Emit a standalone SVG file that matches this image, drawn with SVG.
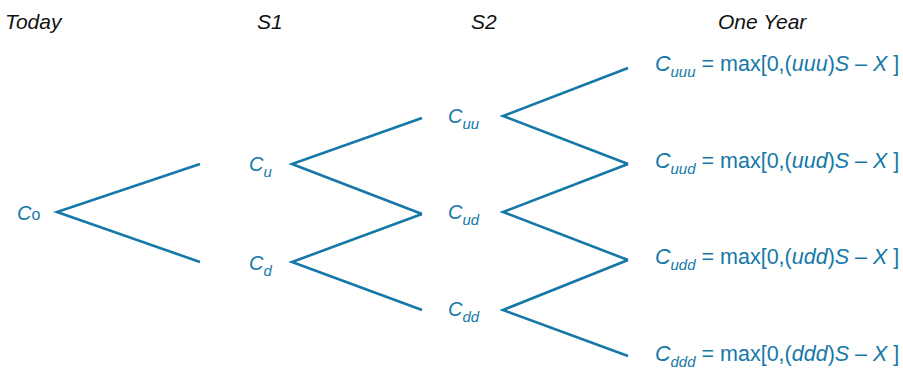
<svg xmlns="http://www.w3.org/2000/svg" width="903" height="373" viewBox="0 0 903 373">
<style>
.h{font-family:"Liberation Sans",Arial,sans-serif;font-style:italic;font-size:21px;fill:#111}
.n{font-family:"Liberation Sans",Arial,sans-serif;font-size:20px;fill:#1578a8}
.r{font-size:21.5px}
.i{font-style:italic}
.s{font-size:15px;font-style:italic}
.e{stroke:#1578a8;stroke-width:2.6;fill:none;stroke-linejoin:miter}
</style>
<rect width="903" height="373" fill="#fff"/>
<g id="headers">
<text class="h" x="5" y="29">Today</text>
<text class="h" x="257" y="29">S1</text>
<text class="h" x="471" y="29">S2</text>
<text class="h" x="718" y="29">One Year</text>
</g>
<g id="connectors">
<polyline class="e" points="200,164 57,212 200,262"/>
<polyline class="e" points="422,118 292,164 422,214"/>
<polyline class="e" points="422,214 292,262 422,310"/>
<polyline class="e" points="628,68 503,116 628,164"/>
<polyline class="e" points="628,164 503,212 628,260"/>
<polyline class="e" points="628,260 503,310 628,356"/>
</g>
<g id="C0"><text class="n" x="17" y="220"><tspan class="i">C</tspan><tspan font-size="16">o</tspan></text></g>
<g id="Cu"><text class="n" x="249" y="171"><tspan class="i">C</tspan><tspan class="s" dy="6">u</tspan></text></g>
<g id="Cd"><text class="n" x="249" y="270"><tspan class="i">C</tspan><tspan class="s" dy="6">d</tspan></text></g>
<g id="Cuu"><text class="n" x="448" y="123"><tspan class="i">C</tspan><tspan class="s" dy="6">uu</tspan></text></g>
<g id="Cud"><text class="n" x="448" y="219"><tspan class="i">C</tspan><tspan class="s" dy="6">ud</tspan></text></g>
<g id="Cdd"><text class="n" x="448" y="316"><tspan class="i">C</tspan><tspan class="s" dy="6">dd</tspan></text></g>
<g id="Cuuu"><text class="n r" x="655" y="71"><tspan class="i">C</tspan><tspan class="s" dy="6">uuu</tspan><tspan dy="-6"> = max[0,(</tspan><tspan class="i">uuu</tspan><tspan>)</tspan><tspan class="i">S</tspan><tspan> – </tspan><tspan class="i">X</tspan><tspan> ]</tspan></text></g>
<g id="Cuud"><text class="n r" x="655" y="168"><tspan class="i">C</tspan><tspan class="s" dy="6">uud</tspan><tspan dy="-6"> = max[0,(</tspan><tspan class="i">uud</tspan><tspan>)</tspan><tspan class="i">S</tspan><tspan> – </tspan><tspan class="i">X</tspan><tspan> ]</tspan></text></g>
<g id="Cudd"><text class="n r" x="655" y="264"><tspan class="i">C</tspan><tspan class="s" dy="6">udd</tspan><tspan dy="-6"> = max[0,(</tspan><tspan class="i">udd</tspan><tspan>)</tspan><tspan class="i">S</tspan><tspan> – </tspan><tspan class="i">X</tspan><tspan> ]</tspan></text></g>
<g id="Cddd"><text class="n r" x="655" y="361"><tspan class="i">C</tspan><tspan class="s" dy="6">ddd</tspan><tspan dy="-6"> = max[0,(</tspan><tspan class="i">ddd</tspan><tspan>)</tspan><tspan class="i">S</tspan><tspan> – </tspan><tspan class="i">X</tspan><tspan> ]</tspan></text></g>
</svg>
